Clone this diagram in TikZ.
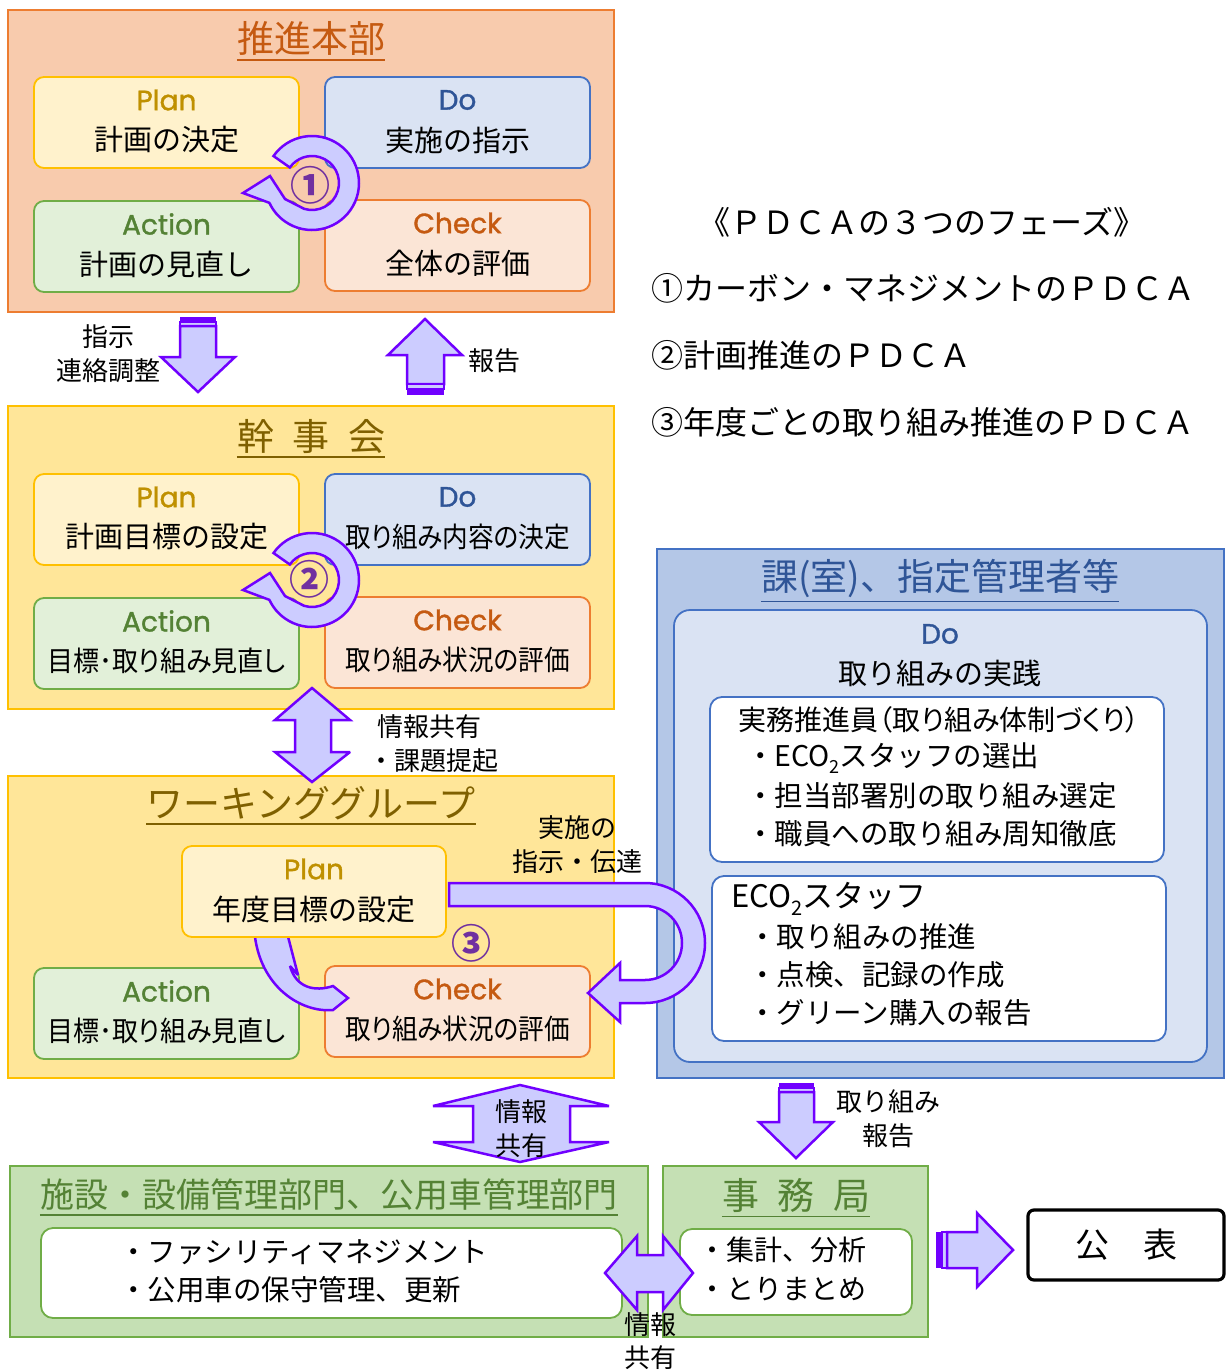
\documentclass[tikz,border=0pt]{standalone}
\usepackage{fontspec}
\usepackage{graphicx}
\setmainfont{Noto Sans CJK JP}
\newfontfamily\paltf{Noto Sans CJK JP}[RawFeature={+palt}]
\newfontfamily\pdcafont{Poppins}[FakeBold=1.2]
\usetikzlibrary{calc}
\definecolor{orgfill}{HTML}{F8CBAD}
\definecolor{orgline}{HTML}{ED7D31}
\definecolor{yelfill}{HTML}{FFE699}
\definecolor{yelline}{HTML}{FFC000}
\definecolor{blufill}{HTML}{B4C7E7}
\definecolor{bluline}{HTML}{4472C4}
\definecolor{grnfill}{HTML}{C5E0B4}
\definecolor{grnline}{HTML}{70AD47}
\definecolor{planfill}{HTML}{FFF2CC}
\definecolor{dofill}{HTML}{DAE3F3}
\definecolor{actfill}{HTML}{E2F0D9}
\definecolor{chkfill}{HTML}{FBE5D6}
\definecolor{plantxt}{HTML}{BF9000}
\definecolor{dotxt}{HTML}{2F5597}
\definecolor{acttxt}{HTML}{548235}
\definecolor{chktxt}{HTML}{C55A11}
\definecolor{olivetxt}{HTML}{7F6000}
\definecolor{arrfill}{HTML}{CCCCFF}
\definecolor{arrline}{HTML}{7000FF}
\definecolor{numcol}{HTML}{7030A0}
\newcommand{\fsz}[1]{\fontsize{#1}{#1}\selectfont}
\tikzset{
  blk/.style={draw, line width=2pt, anchor=north west, inner sep=0pt, outer sep=0pt},
  sub/.style={draw, line width=1.8pt, rounded corners=10pt, anchor=north west, inner sep=0pt, outer sep=0pt},
  planbox/.style={fill=planfill, draw=yelline},
  dobox/.style={fill=dofill, draw=bluline},
  actbox/.style={fill=actfill, draw=grnline},
  chkbox/.style={fill=chkfill, draw=orgline},
  lbl/.style={inner sep=0pt, anchor=center, font=\fsz{26}},
  pdca/.style={inner sep=0pt, anchor=center, font=\pdcafont\fsz{28}},
  jtx/.style={inner sep=0pt, anchor=center, font=\fsz{29}},
  blt/.style={inner sep=0pt, anchor=west, font=\fsz{28.5}},
  ttl/.style={inner sep=0pt, anchor=center, font=\fsz{37}},
  rtx/.style={inner sep=0pt, anchor=west, font=\fsz{32}},
  barrow/.style={fill=arrfill, draw=arrline, line width=2.5pt, line join=miter, miter limit=3},
  num/.style={inner sep=0pt, anchor=center, font=\bfseries\fsz{40}, text=numcol},
}
\newcommand{\pdcabox}[8]{%
  \node[sub, #5box, minimum width=#4, minimum height=91] (#1) at (#2,#3) {};
  \node[pdca, text=#5txt] (#1l) at ($(#1.north)+(0,23)$) {#6};
  \node[jtx, font=#8] (#1t) at ($(#1.north)+(0,63)$) {#7};
}
\newcommand{\ringarrow}[2]{%
  \draw[barrow] ($(#1,#2)+(215:47)$) arc[start angle=215, end angle=515, radius=47]
    -- ($(#1,#2)+(-69,10)$) -- ($(#1,#2)+(-42,-7)$) -- ($(#1,#2)+(-27,16)$)
    -- ($(#1,#2)+(467:27)$) arc[start angle=467, end angle=215, radius=27] -- cycle;
}
\newcommand{\ulnode}[2]{\draw[draw=#2, line width=1.6pt] ($(#1.south west)+(0,4)$) -- ($(#1.south east)+(0,4)$);}
\begin{document}
\begin{tikzpicture}[x=1pt,y=-1pt]
\useasboundingbox (0,0) rectangle (1227,1371);
\fill[white] (0,0) rectangle (1227,1371);

% ---------- 推進本部 ----------
\node[blk, fill=orgfill, draw=orgline, minimum width=606, minimum height=302] (hq) at (8,10) {};
\node[ttl, text=chktxt] (hqT) at (311,38.5) {推進本部};
\ulnode{hqT}{chktxt}
\pdcabox{hqP}{34}{77}{265}{plan}{Plan}{計画の決定}{\fsz{29}}
\pdcabox{hqD}{325}{77}{265}{do}{Do}{実施の指示}{\fsz{29}}
\pdcabox{hqA}{34}{201}{265}{act}{Action}{計画の見直し}{\fsz{29}}
\pdcabox{hqC}{325}{200}{265}{chk}{Check}{全体の評価}{\fsz{29}}
\ringarrow{312}{183}
\node[num] (n1) at (310,185) {①};

% ---------- arrows between 推進本部 and 幹事会 ----------
\fill[arrline] (180,317) rectangle (216,322);
\draw[barrow] (180,322) rectangle (216,326);
\draw[barrow] (180,326) -- (216,326) -- (216,357) -- (235,357) -- (198,392) -- (161,357) -- (180,357) -- cycle;
\node[lbl] (l1a) at (108,337) {指示};
\node[lbl] (l1b) at (108,371) {連絡調整};
\draw[barrow] (407,384) -- (407,355) -- (388,355) -- (425,319) -- (462,355) -- (444,355) -- (444,384) -- cycle;
\draw[barrow] (407,384) rectangle (444,389);
\fill[arrline] (407,389) rectangle (444,395);
\node[lbl] (l2) at (494,361) {報告};

% ---------- 幹事会 ----------
\node[blk, fill=yelfill, draw=yelline, minimum width=606, minimum height=303] (kj) at (8,406) {};
\node[ttl, text=olivetxt] (kjT) at (311,436) {幹\hspace{0.5em}事\hspace{0.5em}会};
\ulnode{kjT}{olivetxt}
\pdcabox{kjP}{34}{474}{265}{plan}{Plan}{計画目標の設定}{\fsz{29}}
\pdcabox{kjD}{325}{474}{265}{do}{Do}{\scalebox{0.915}[1]{取り組み内容の決定}}{\paltf\fsz{28}}
\pdcabox{kjA}{34}{598}{265}{act}{Action}{\scalebox{0.93}[1]{目標･取り組み見直し}}{\paltf\fsz{28}}
\pdcabox{kjC}{325}{597}{265}{chk}{Check}{\scalebox{0.915}[1]{取り組み状況の評価}}{\paltf\fsz{28}}
\ringarrow{312}{580}
\node[num] (n2) at (309,579) {②};

% ---------- ワーキンググループ ----------
\node[blk, fill=yelfill, draw=yelline, minimum width=606, minimum height=302] (wg) at (8,776) {};
\node[ttl, text=olivetxt] (wgT) at (311,803) {ワーキンググループ};
\ulnode{wgT}{olivetxt}
\pdcabox{wgA}{34}{968}{265}{act}{Action}{\scalebox{0.93}[1]{目標･取り組み見直し}}{\paltf\fsz{28}}
\pdcabox{wgC}{325}{966}{265}{chk}{Check}{\scalebox{0.915}[1]{取り組み状況の評価}}{\paltf\fsz{28}}
\draw[barrow] (254,925) .. controls (256,985) and (300,1013) .. (333,1010) -- (348,998) -- (333,986)
   .. controls (315,992) and (296,988) .. (290,966) -- (298,975) -- (285,925) -- cycle;
\pdcabox{wgP}{182}{846}{264}{plan}{Plan}{年度目標の設定}{\fsz{29}}
\node[num] (n3) at (471,943) {③};

% ---------- arrow between 幹事会 and WG ----------
\draw[barrow] (312,688) -- (350,720) -- (331,720) -- (331,752) -- (350,752) -- (312,782) -- (275,752) -- (295,752) -- (295,720) -- (275,720) -- cycle;
\node[lbl] (l3a) at (429.5,727) {情報共有};
\node[lbl] (l3b) at (433,761) {・課題提起};

% ---------- 課(室)、指定管理者等 ----------
\node[blk, fill=blufill, draw=bluline, minimum width=567, minimum height=529] (ka) at (657,549) {};
\node[ttl, text=dotxt] (kaT) at (940,578) {課(室)、指定管理者等};
\ulnode{kaT}{dotxt}
\node[sub, fill=dofill, draw=bluline, rounded corners=16pt, minimum width=533, minimum height=452] (kaDo) at (674,610) {};
\node[pdca, text=dotxt] (kaDol) at (940,634) {Do};
\node[jtx] (kaDot) at (940,673) {取り組みの実践};
\node[sub, fill=white, draw=bluline, rounded corners=12pt, minimum width=454, minimum height=165] (kaW1) at (710,697) {};
\node[jtx, font=\paltf\fsz{28}] (w1h) at (939,720) {実務推進員（取り組み体制づくり）};
\node[blt] (w1a) at (746,758) {・ECO\raisebox{-0.25em}{\fsz{18}2}スタッフの選出};
\node[blt] (w1b) at (746,796) {・担当部署別の取り組み選定};
\node[blt] (w1c) at (746,834) {・職員への取り組み周知徹底};
\node[sub, fill=white, draw=bluline, rounded corners=12pt, minimum width=454, minimum height=165] (kaW2) at (712,876) {};
\node[blt, font=\fsz{31}] (w2h) at (731,899) {ECO\raisebox{-0.25em}{\fsz{20}2}スタッフ};
\node[blt] (w2a) at (748,937) {・取り組みの推進};
\node[blt] (w2b) at (748,975) {・点検、記録の作成};
\node[blt] (w2c) at (748,1013) {・グリーン購入の報告};

% ---------- U arrow WG Plan -> Check ----------
\draw[barrow] (449,883) -- (645,883) arc[start angle=-90, end angle=90, radius=60] -- (620,1003) -- (620,1022) -- (588,993) -- (620,963) -- (620,980) -- (645,980) arc[start angle=90, end angle=-90, radius=37] -- (449,906) -- cycle;
\node[lbl] (l4a) at (577,828) {実施の};
\node[lbl] (l4b) at (577,862) {指示・伝達};

% ---------- bottom blocks ----------
\node[blk, fill=grnfill, draw=grnline, minimum width=638, minimum height=171] (fac) at (10,1166) {};
\node[ttl, font=\fsz{34}, text=acttxt] (facT) at (329,1195) {施設・設備管理部門、公用車管理部門};
\ulnode{facT}{acttxt}
\node[sub, fill=white, draw=grnline, rounded corners=12pt, minimum width=581, minimum height=90] (facW) at (41,1228) {};
\node[blt] (fa) at (119,1252) {・ファシリティマネジメント};
\node[blt] (fb) at (119,1290) {・公用車の保守管理、更新};

\node[blk, fill=grnfill, draw=grnline, minimum width=265, minimum height=171] (jm) at (663,1166) {};
\node[ttl, text=acttxt] (jmT) at (796,1195) {事\hspace{0.5em}務\hspace{0.5em}局};
\ulnode{jmT}{acttxt}
\node[sub, fill=white, draw=grnline, rounded corners=12pt, minimum width=232, minimum height=86] (jmW) at (680,1229) {};
\node[blt, font=\fsz{28}] (ja) at (698,1250) {・集計、分析};
\node[blt, font=\fsz{28}] (jb) at (698,1289) {・とりまとめ};

\node[draw=black, line width=3.2pt, rounded corners=6pt, fill=white, minimum width=196, minimum height=70, inner sep=0pt, font=\fsz{34}] (pub) at (1126,1245) {公　表};

% WG <-> 施設
\draw[barrow] (520,1085) -- (609,1106) -- (570,1106) -- (570,1142) -- (609,1142) -- (520,1162) -- (433,1142) -- (473,1142) -- (473,1106) -- (433,1106) -- cycle;
\node[lbl] (l5a) at (521,1112) {情報};
\node[lbl] (l5b) at (521,1146) {共有};
% 課 -> 事務局
\fill[arrline] (779,1083) rectangle (814,1088);
\draw[barrow] (779,1088) rectangle (814,1092);
\draw[barrow] (779,1092) -- (814,1092) -- (814,1122) -- (833,1122) -- (796,1158) -- (759,1122) -- (779,1122) -- cycle;
\node[lbl] (l6a) at (888,1102) {取り組み};
\node[lbl] (l6b) at (888,1136) {報告};
% 施設 <-> 事務局
\draw[barrow] (605,1273) -- (637,1236) -- (637,1255) -- (663,1255) -- (663,1236) -- (693,1273) -- (663,1310) -- (663,1292) -- (637,1292) -- (637,1310) -- cycle;
\node[lbl] (l7a) at (650,1325) {情報};
\node[lbl] (l7b) at (650,1358) {共有};
% 事務局 -> 公表
\fill[arrline] (936,1232) rectangle (942,1268);
\draw[barrow] (942,1232) rectangle (947,1268);
\draw[barrow] (947,1232) -- (977,1232) -- (977,1213) -- (1013,1250) -- (977,1287) -- (977,1268) -- (947,1268) -- cycle;

% ---------- right text ----------
\node[inner sep=0pt, anchor=center, font=\fsz{32}] (ph) at (922,222) {《ＰＤＣＡの３つのフェーズ》};
\node[rtx] (p1) at (651,288) {①カーボン・マネジメントのＰＤＣＡ};
\node[rtx] (p2) at (651,355) {②計画推進のＰＤＣＡ};
\node[rtx] (p3) at (651,422) {③年度ごとの取り組み推進のＰＤＣＡ};
\end{tikzpicture}
\end{document}
